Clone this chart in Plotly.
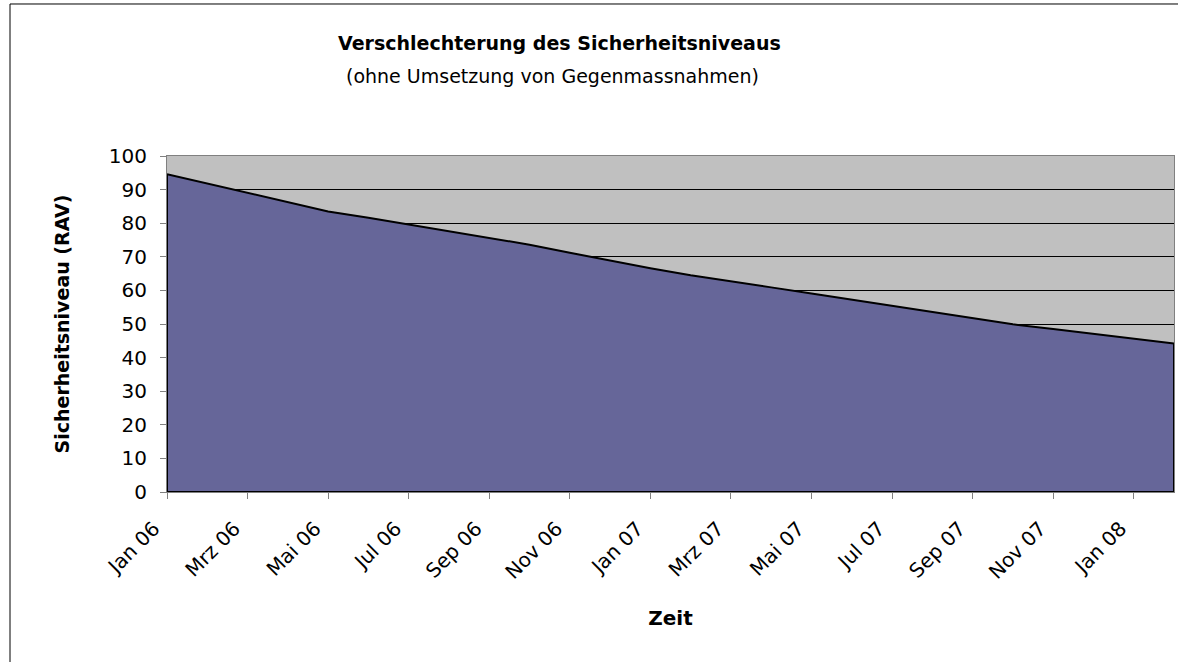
import plotly.graph_objects as go

months = ["Jan 06", "Feb 06", "Mrz 06", "Apr 06", "Mai 06", "Jun 06", "Jul 06", "Aug 06",
          "Sep 06", "Okt 06", "Nov 06", "Dez 06", "Jan 07", "Feb 07", "Mrz 07", "Apr 07",
          "Mai 07", "Jun 07", "Jul 07", "Aug 07", "Sep 07", "Okt 07", "Nov 07", "Dez 07",
          "Jan 08", "Feb 08"]
values = [94.6, 91.8, 89.0, 86.2, 83.5, 81.6, 79.6, 77.6, 75.6, 73.6, 71.2, 68.8, 66.6,
          64.5, 62.6, 60.9, 59.1, 57.3, 55.5, 53.7, 51.8, 49.9, 48.5, 47.0, 45.6, 44.2]
y_ticks = list(range(0, 101, 10))

title = "Verschlechterung des Sicherheitsniveaus"
subtitle = "(ohne Umsetzung von Gegenmassnahmen)"
x_title = "Zeit"
y_title = "Sicherheitsniveau (RAV)"

idx = list(range(len(months)))
tick_idx = idx[::2]
tick_text = months[::2]

# closed polygon so the area is outlined like the original
poly_x = idx + [idx[-1], idx[0], idx[0]]
poly_y = values + [0, 0, values[0]]

FONT = "DejaVu Sans, Liberation Sans, Arial, sans-serif"

fig = go.Figure()
fig.add_trace(go.Scatter(
    x=poly_x, y=poly_y, mode="lines", fill="toself",
    fillcolor="#666699", line=dict(color="black", width=2),
    hoverinfo="skip", showlegend=False, cliponaxis=False,
))

fig.update_layout(
    width=1178, height=662,
    margin=dict(l=167, r=4, t=156, b=170),
    paper_bgcolor="white", plot_bgcolor="#C0C0C0",
    font=dict(family=FONT, size=18, color="black"),
    showlegend=False,
    xaxis=dict(
        range=[0, len(months) - 1], tickmode="array", tickvals=tick_idx, ticktext=tick_text,
        tickangle=-45, ticks="outside", ticklen=6, tickcolor="#808080",
        ticklabelstandoff=10, ticklabelshift=-13,
        showgrid=False, zeroline=False, showline=True, linecolor="#808080", linewidth=1,
        mirror=True, tickfont=dict(size=20, family=FONT),
        title=dict(text="<b>" + x_title + "</b>", font=dict(size=20, family=FONT), standoff=28),
    ),
    yaxis=dict(
        range=[0, 100], tickmode="array", tickvals=y_ticks,
        ticks="outside", ticklen=6, tickcolor="#808080", ticklabelstandoff=9,
        showgrid=True, gridcolor="black", gridwidth=1, zeroline=False,
        showline=True, linecolor="#808080", linewidth=1, mirror=True,
        tickfont=dict(size=20, family=FONT),
        title=dict(text="<b>" + y_title + "</b>", font=dict(size=19, family=FONT), standoff=34),
    ),
    annotations=[
        dict(text="<b>" + title + "</b>", xref="paper", yref="paper", x=0.390, y=1.336,
             xanchor="center", yanchor="middle", showarrow=False,
             font=dict(size=19, family=FONT)),
        dict(text=subtitle, xref="paper", yref="paper", x=0.383, y=1.238,
             xanchor="center", yanchor="middle", showarrow=False,
             font=dict(size=19, family=FONT)),
    ],
    shapes=[
        dict(type="rect", xref="paper", yref="paper", x0=-0.1559, x1=1.01, y0=-0.53, y1=1.4524,
             line=dict(color="black", width=1), fillcolor="rgba(0,0,0,0)", layer="below"),
    ],
)

fig.write_html("out.html", config={"displayModeBar": False},
               post_script="document.body.style.margin='0';document.body.style.overflow='hidden';")
